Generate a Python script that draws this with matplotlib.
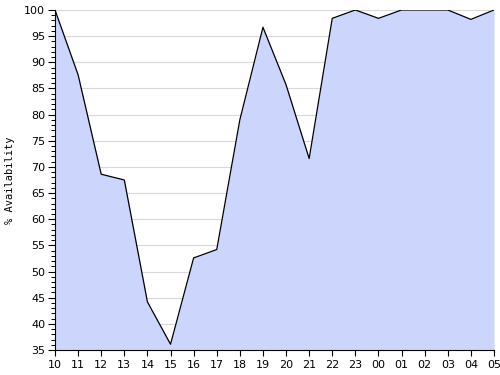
import matplotlib
matplotlib.use("Agg")
import matplotlib.pyplot as plt
from matplotlib.ticker import MultipleLocator

# hourly availability, 10:00 through 05:00 next day
hours = ['10', '11', '12', '13', '14', '15', '16', '17', '18', '19',
         '20', '21', '22', '23', '00', '01', '02', '03', '04', '05']
availability = [100, 87.6, 68.6, 67.5, 44.2, 36.1, 52.6, 54.2, 79.0, 96.7,
                85.7, 71.6, 98.4, 100, 98.4, 100, 100, 100, 98.2, 100]

fig = plt.figure(figsize=(5, 3.75), dpi=100)
ax = fig.add_axes([0.11, 0.0667, 0.878, 0.9067])

x = list(range(len(hours)))
ax.fill_between(x, availability, 35, color='#ccd5fc', linewidth=0, zorder=2)
ax.plot(x, availability, color='black', linewidth=0.9, zorder=3)

ax.set_xlim(0, len(hours) - 1)
ax.set_ylim(35, 100)
ax.set_xticks(x)
ax.set_xticklabels(hours)
ax.yaxis.set_major_locator(MultipleLocator(5))
ax.yaxis.set_minor_locator(MultipleLocator(1))
ax.grid(axis='y', color='#d8d8d8', linewidth=0.8, zorder=1)

for s in ['top', 'right']:
    ax.spines[s].set_visible(False)
ax.spines['left'].set_linewidth(0.8)
ax.spines['bottom'].set_linewidth(0.8)
ax.spines['left'].set_zorder(4)
ax.spines['bottom'].set_zorder(4)

ax.tick_params(axis='both', labelsize=8, width=0.8, pad=2)
ax.tick_params(axis='y', which='major', length=5)
ax.tick_params(axis='y', which='minor', length=3, width=0.7)
ax.tick_params(axis='x', length=4, pad=3)

ax.set_ylabel('% Availability', family='DejaVu Sans Mono', fontsize=7.5, labelpad=7)

fig.savefig('out.png', dpi=100)
